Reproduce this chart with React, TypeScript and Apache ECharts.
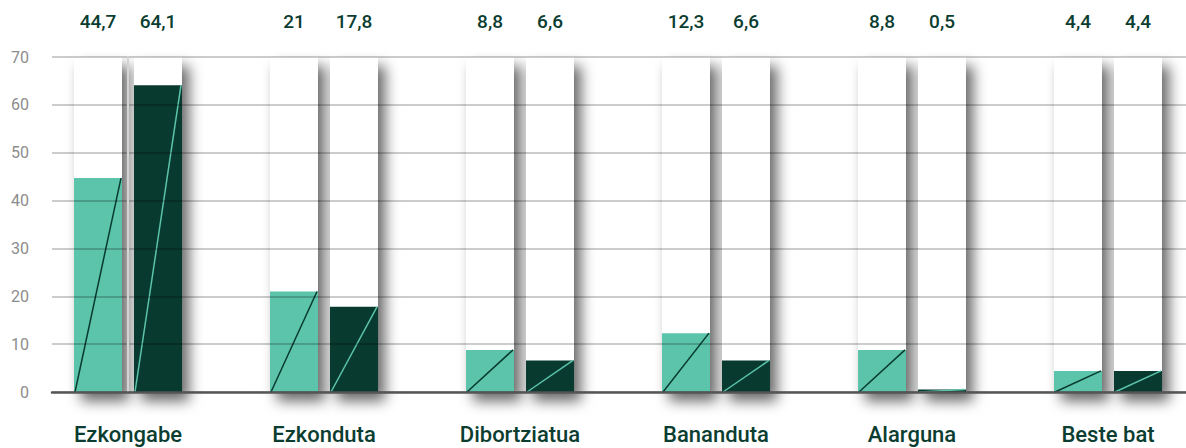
import React, { useEffect, useRef } from "react";
import * as echarts from "echarts";

const categories = ["Ezkongabe", "Ezkonduta", "Dibortziatua", "Bananduta", "Alarguna", "Beste bat"];
const seriesLight = [44.7, 21, 8.8, 12.3, 8.8, 4.4];
const seriesDark = [64.1, 17.8, 6.6, 6.6, 0.5, 4.4];
const yMax = 70;
const yInterval = 10;

const LIGHT = "#5cc4ab";
const DARK = "#083a2f";
const TEXT = "#0b3d31";

const W = 1186;
const H = 448;
const GRID_LEFT = 52;
const FIRST_CENTER = 128;
const STEP = 196;
const BAR_W = 48;
const BAR_GAP = 12;

const fmt = (v: number) => String(v).replace(".", ",");

export default function App() {
  const ref = useRef<HTMLDivElement>(null);
  useEffect(() => {
    if (!ref.current) return;
    const chart = echarts.init(ref.current, undefined, { renderer: "svg" });
    const gridWidth = W - GRID_LEFT;
    const xMin = -(FIRST_CENTER - GRID_LEFT) / STEP;
    const xMax = xMin + gridWidth / STEP;
    const data = categories.map((c, i) => [i, seriesLight[i], seriesDark[i]]);

    const renderItem = (params: any, api: any) => {
      const i = api.value(0);
      const vals = [api.value(1), api.value(2)];
      const [cx, y0] = api.coord([i, 0]);
      const yTop = api.coord([i, yMax])[1];
      const xs = [cx - BAR_GAP / 2 - BAR_W, cx + BAR_GAP / 2];
      const children: any[] = [];
      xs.forEach((x) => {
        children.push({
          type: "rect",
          shape: { x, y: yTop, width: BAR_W, height: y0 - yTop },
          style: {
            fill: "#ffffff",
            shadowBlur: 14,
            shadowColor: "rgba(0,0,0,0.6)",
            shadowOffsetX: 7,
            shadowOffsetY: 9,
          },
        });
      });
      vals.forEach((v, k) => {
        const x = xs[k];
        const yv = api.coord([i, v])[1];
        children.push({
          type: "rect",
          shape: { x, y: yv, width: BAR_W, height: y0 - yv },
          style: { fill: k === 0 ? LIGHT : DARK },
        });
        children.push({
          type: "line",
          shape: { x1: x + 1, y1: y0, x2: x + BAR_W - 1, y2: yv },
          style: { stroke: k === 0 ? DARK : LIGHT, lineWidth: 1.5 },
        });
        children.push({
          type: "text",
          x: x + BAR_W / 2,
          y: yTop - 36,
          style: {
            text: fmt(v),
            fill: TEXT,
            font: "500 19px Roboto",
            align: "center",
            verticalAlign: "middle",
          },
        });
      });
      children.push({
        type: "text",
        x: cx,
        y: y0 + 42,
        style: {
          text: categories[i],
          fill: TEXT,
          font: "500 22px Roboto",
          align: "center",
          verticalAlign: "middle",
        },
      });
      return { type: "group", children };
    };

    chart.setOption({
      animation: false,
      grid: { left: GRID_LEFT, right: 0, top: 57, bottom: H - 392 },
      xAxis: {
        type: "value",
        min: xMin,
        max: xMax,
        z: 10,
        axisLine: { show: true, onZero: true, lineStyle: { color: "#555555", width: 2.5 } },
        axisLabel: { show: false },
        axisTick: { show: false },
        splitLine: { show: false },
      },
      yAxis: {
        type: "value",
        min: 0,
        max: yMax,
        interval: yInterval,
        z: 10,
        axisLine: { show: true, lineStyle: { color: "#d4d4d4", width: 2 } },
        axisTick: { show: false },
        axisLabel: { color: "#8c8c8c", fontSize: 16, fontFamily: "Roboto", margin: 23 },
        splitLine: { lineStyle: { color: "rgba(0,0,0,0.2)", width: 2 } },
      },
      series: [
        {
          type: "custom",
          renderItem,
          data,
          clip: false,
          encode: { x: 0, y: [1, 2] },
        },
      ],
    });
    return () => chart.dispose();
  }, []);
  return (
    <div
      ref={ref}
      style={{ position: "fixed", left: 0, top: 0, width: W, height: H, background: "#fff" }}
    />
  );
}
